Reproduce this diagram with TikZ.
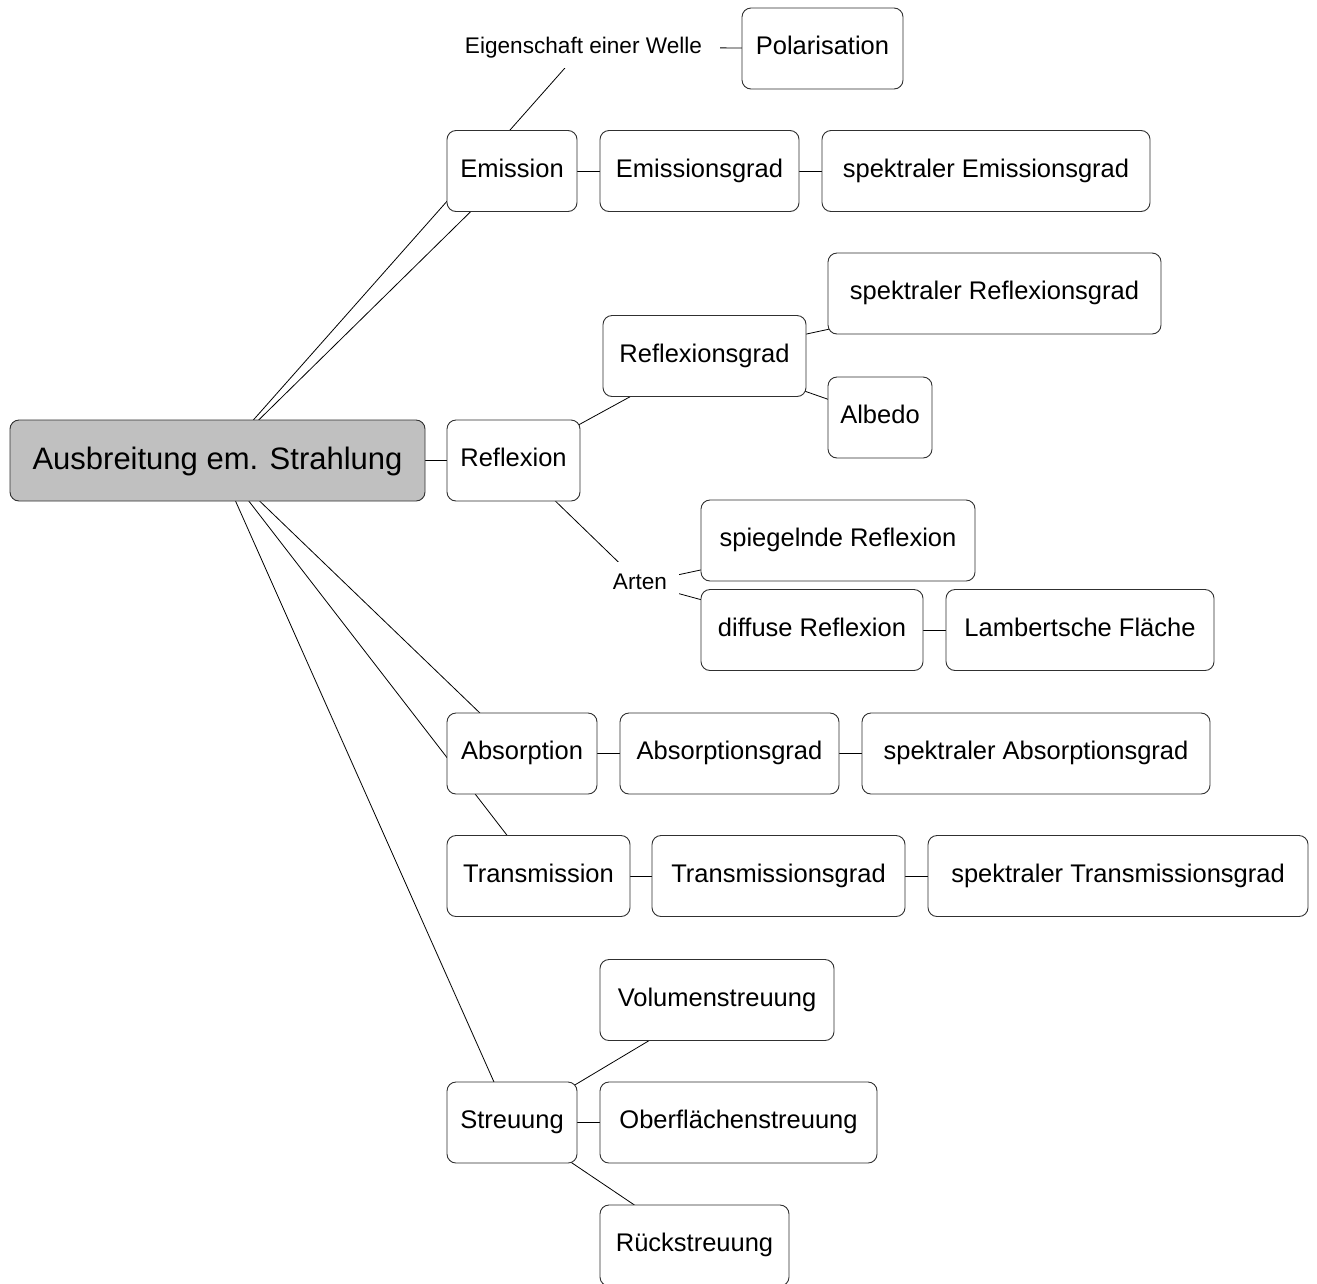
\documentclass[tikz,border=0pt]{standalone}
\usepackage{fontspec}
\setmainfont{Liberation Sans}
\usetikzlibrary{backgrounds}
\definecolor{rootfill}{HTML}{C0C0C0}
\definecolor{frame}{HTML}{303030}
\pgfdeclarelayer{paper}
\pgfsetlayers{paper,background,main}
\begin{document}
\begin{tikzpicture}[x=1pt,y=-1pt,
  box/.style={draw=frame,line width=0.9pt,rounded corners=9pt,fill=white,
    inner sep=0pt,minimum width=#1,minimum height=81pt,
    text height=18pt,text depth=6pt,
    font=\fontsize{25.5}{30}\selectfont},
  rootbox/.style={box=415pt,fill=rootfill,text height=23pt,text depth=6pt,
    font=\fontsize{31}{37}\selectfont},
  tag/.style={fill=white,inner sep=0pt,minimum width=#1,minimum height=42pt,
    text height=16pt,text depth=4pt,
    font=\fontsize{22.6}{27}\selectfont},
  link/.style={line width=0.8pt,draw=black}]
\useasboundingbox (0,0) rectangle (1317,1283);
\begin{pgfonlayer}{paper}
  \fill[white] (0,0) rectangle (1317,1283);
\end{pgfonlayer}

% central topic
\node[rootbox] (root) at (217.5,460.5) {Ausbreitung em. Strahlung};

% emission branch
\node[tag=273pt] (eig) at (583.5,47) {Eigenschaft einer Welle};
\node[box=161pt] (pol) at (822.5,48.5) {Polarisation};
\node[box=130pt] (emis) at (512,171) {Emission};
\node[box=199pt] (emisg) at (699.5,171) {Emissionsgrad};
\node[box=328pt] (semis) at (986,171) {spektraler Emissionsgrad};

% reflection branch
\node[box=133pt] (refl) at (513.5,460.5) {Reflexion};
\node[box=203pt] (reflg) at (704.5,356) {Reflexionsgrad};
\node[box=333pt] (sreflg) at (994.5,293.5) {spektraler Reflexionsgrad};
\node[box=104pt] (albedo) at (880,417.5) {Albedo};
\node[tag=78pt] (arten) at (640,583) {Arten};
\node[box=274pt] (spieg) at (838,540.5) {spiegelnde Reflexion};
\node[box=222pt] (diff) at (812,630) {diffuse Reflexion};
\node[box=268pt] (lamb) at (1080,630) {Lambertsche Fläche};

% absorption and transmission
\node[box=150pt] (abs) at (522,753.5) {Absorption};
\node[box=219pt] (absg) at (729.5,753.5) {Absorptionsgrad};
\node[box=348pt] (sabsg) at (1036,753.5) {spektraler Absorptionsgrad};
\node[box=183pt] (trans) at (538.5,876) {Transmission};
\node[box=253pt] (transg) at (778.5,876) {Transmissionsgrad};
\node[box=380pt] (strans) at (1118,876) {spektraler Transmissionsgrad};

% scattering
\node[box=130pt] (streu) at (512,1122.5) {Streuung};
\node[box=234pt] (vol) at (717,1000) {Volumenstreuung};
\node[box=277pt] (ober) at (738.5,1122.5) {Oberflächenstreuung};
\node[box=189pt] (rueck) at (694.5,1245.5) {Rückstreuung};

% connectors run centre to centre behind the filled boxes
\begin{pgfonlayer}{background}
  \draw[link] (root.center) -- (eig.center);
  \draw[link] (root.center) -- (emis.center);
  \draw[link] (root.center) -- (refl.center);
  \draw[link] (root.center) -- (abs.center);
  \draw[link] (root.center) -- (trans.center);
  \draw[link] (root.center) -- (streu.center);
  \draw[link] (eig.center) -- (pol.center);
  \draw[link] (emis.center) -- (emisg.center);
  \draw[link] (emisg.center) -- (semis.center);
  \draw[link] (refl.center) -- (reflg.center);
  \draw[link] (reflg.center) -- (sreflg.center);
  \draw[link] (reflg.center) -- (albedo.center);
  \draw[link] (refl.center) -- (arten.center);
  \draw[link] (arten.center) -- (spieg.center);
  \draw[link] (arten.center) -- (diff.center);
  \draw[link] (diff.center) -- (lamb.center);
  \draw[link] (abs.center) -- (absg.center);
  \draw[link] (absg.center) -- (sabsg.center);
  \draw[link] (trans.center) -- (transg.center);
  \draw[link] (transg.center) -- (strans.center);
  \draw[link] (streu.center) -- (vol.center);
  \draw[link] (streu.center) -- (ober.center);
  \draw[link] (streu.center) -- (rueck.center);
\end{pgfonlayer}
\end{tikzpicture}
\end{document}
